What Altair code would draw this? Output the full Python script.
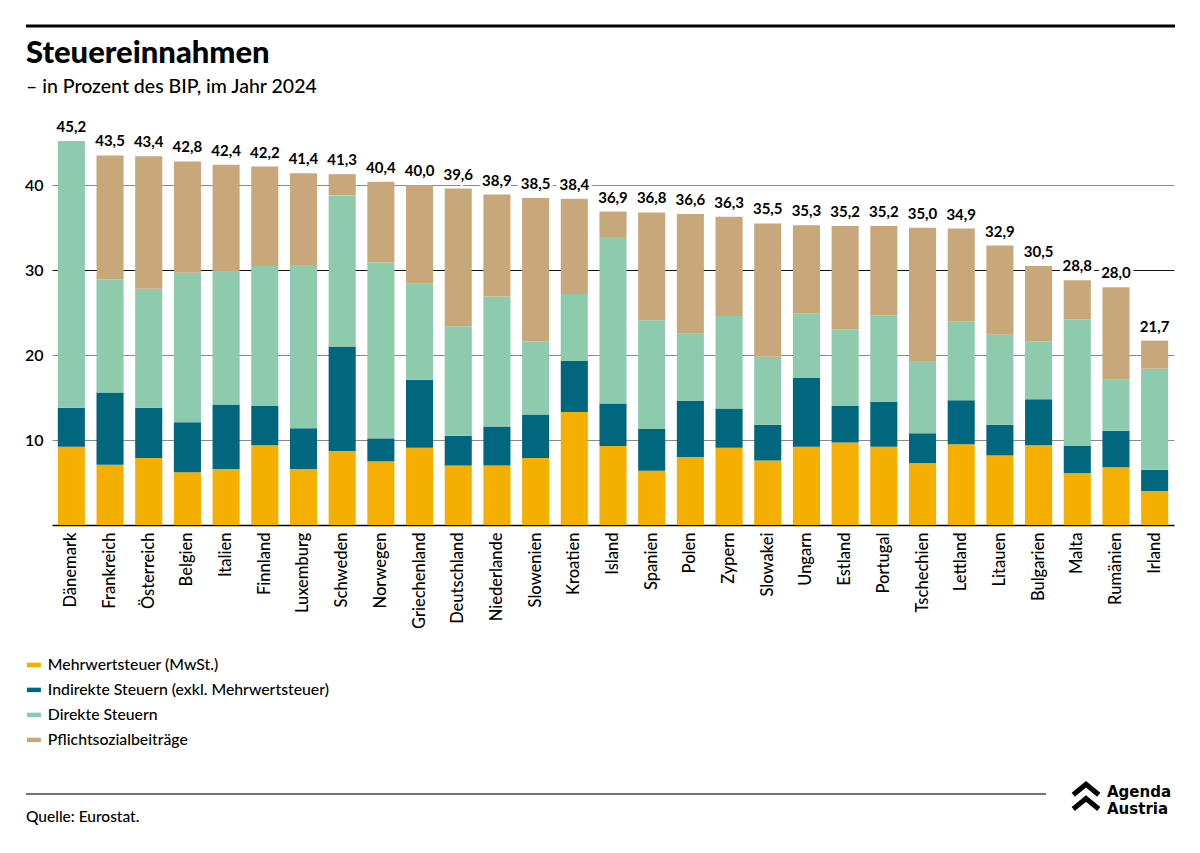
import altair as alt
import pandas as pd

countries = ["Dänemark", "Frankreich", "Österreich", "Belgien", "Italien", "Finnland",
             "Luxemburg", "Schweden", "Norwegen", "Griechenland", "Deutschland",
             "Niederlande", "Slowenien", "Kroatien", "Island", "Spanien", "Polen",
             "Zypern", "Slowakei", "Ungarn", "Estland", "Portugal", "Tschechien",
             "Lettland", "Litauen", "Bulgarien", "Malta", "Rumänien", "Irland"]
totals = [45.2, 43.5, 43.4, 42.8, 42.4, 42.2, 41.4, 41.3, 40.4, 40.0, 39.6, 38.9, 38.5,
          38.4, 36.9, 36.8, 36.6, 36.3, 35.5, 35.3, 35.2, 35.2, 35.0, 34.9, 32.9, 30.5,
          28.8, 28.0, 21.7]
mwst = [9.2, 7.1, 7.9, 6.2, 6.6, 9.4, 6.6, 8.7, 7.5, 9.1, 7.0, 7.0, 7.9, 13.3, 9.3, 6.4,
        8.0, 9.1, 7.6, 9.2, 9.7, 9.2, 7.3, 9.5, 8.2, 9.4, 6.1, 6.8, 4.0]
indirekt = [4.6, 8.5, 5.9, 5.9, 7.6, 4.6, 4.8, 12.3, 2.7, 8.0, 3.5, 4.6, 5.1, 6.0, 5.0,
            4.9, 6.6, 4.6, 4.2, 8.1, 4.3, 5.3, 3.5, 5.2, 3.6, 5.4, 3.2, 4.3, 2.5]
direkt = [31.4, 13.3, 14.0, 17.6, 15.7, 16.5, 19.2, 17.8, 20.7, 11.3, 12.9, 15.3, 8.6,
          7.9, 19.6, 12.8, 7.9, 10.9, 8.0, 7.6, 9.0, 10.2, 8.5, 9.3, 10.6, 6.8, 14.9,
          6.0, 11.9]
sozial = [0.0, 14.6, 15.6, 13.1, 12.5, 11.7, 10.8, 2.5, 9.5, 11.6, 16.2, 12.0, 16.9,
          11.2, 3.0, 12.7, 14.1, 11.7, 15.7, 10.4, 12.2, 10.5, 15.7, 10.9, 10.5, 8.9,
          4.6, 10.9, 3.3]

categories = ["Mehrwertsteuer (MwSt.)", "Indirekte Steuern (exkl. Mehrwertsteuer)",
              "Direkte Steuern", "Pflichtsozialbeiträge"]
colors = ["#F5AF00", "#00677F", "#8DCAAE", "#C8A77B"]

series = [mwst, indirekt, direkt, sozial]
rows = []
for ci, (cat, vals) in enumerate(zip(categories, series)):
    for land, v in zip(countries, vals):
        rows.append({"land": land, "kat": cat, "wert": v, "ord": ci})
df = pd.DataFrame(rows)

tot_df = pd.DataFrame({
    "land": countries,
    "total": totals,
    "label": [f"{t:.1f}".replace(".", ",") for t in totals],
})

FONT = "Lato"
W, H = 1122, 395

xenc = alt.X("land:N", sort=countries,
             scale=alt.Scale(paddingInner=0.3, paddingOuter=0.15),
             axis=alt.Axis(title=None, labelAngle=-90, labelAlign="right",
                           labelBaseline="middle", labelPadding=7, labelFontSize=16.5,
                           labelFont=FONT, labelColor="black", labelFontWeight=500,
                           ticks=False, domainColor="black", domainWidth=1.5,
                           grid=False))
yenc = alt.Y("wert:Q", stack="zero",
             scale=alt.Scale(domain=[0, 46.5], nice=False),
             axis=alt.Axis(title=None, values=[10, 20, 30, 40], labelFontSize=16,
                           labelFont=FONT, labelColor="black", labelFontWeight=600,
                           labelPadding=9, domain=False, ticks=False, grid=True,
                           gridColor={"condition": {"test": "datum.value === 30",
                                                    "value": "#111111"},
                                      "value": "#8a8a8a"},
                           gridWidth=1.2))

bars = alt.Chart(df).mark_bar().encode(
    x=xenc,
    y=yenc,
    color=alt.Color("kat:N", sort=categories,
                    scale=alt.Scale(domain=categories, range=colors),
                    legend=alt.Legend(title=None, orient="none", legendX=-26,
                                      legendY=527, direction="vertical",
                                      symbolType="M-1,-0.32L1,-0.32L1,0.32L-1,0.32Z",
                                      symbolSize=196, symbolStrokeWidth=0,
                                      labelFontSize=15.8, labelFont=FONT,
                                      labelFontWeight=500,
                                      labelColor="black", rowPadding=8,
                                      labelOffset=6, padding=0, labelLimit=500)),
    order=alt.Order("ord:Q"),
)

xt = alt.X("land:N", sort=countries)
yt = alt.Y("total:Q")
halo = alt.Chart(tot_df).mark_text(
    font=FONT, fontSize=15, fontWeight="bold", baseline="alphabetic", dy=-9,
    stroke="white", strokeWidth=6, fill="white"
).encode(x=xt, y=yt, text="label:N")
labels = alt.Chart(tot_df).mark_text(
    font=FONT, fontSize=15, fontWeight="bold", baseline="alphabetic", dy=-9,
    color="black"
).encode(x=xt, y=yt, text="label:N")

title = alt.Chart(pd.DataFrame({"t": ["Steuereinnahmen"]})).mark_text(
    font=FONT, fontSize=31, fontWeight=900, align="left", baseline="alphabetic",
    color="black"
).encode(x=alt.value(-26), y=alt.value(-67), text="t:N")

sub = alt.Chart(pd.DataFrame({"t": ["– in Prozent des BIP, im Jahr 2024"]})).mark_text(
    font=FONT, fontSize=19.5, fontWeight=500, align="left", baseline="alphabetic",
    color="black"
).encode(x=alt.value(-26), y=alt.value(-37), text="t:N")

source = alt.Chart(pd.DataFrame({"t": ["Quelle: Eurostat."]})).mark_text(
    font=FONT, fontSize=15.5, fontWeight=500, align="left", baseline="alphabetic",
    color="black"
).encode(x=alt.value(-26), y=alt.value(692), text="t:N")

top_rule = alt.Chart(pd.DataFrame({"a": [0]})).mark_rule(
    color="black", strokeWidth=3
).encode(x=alt.value(-26), x2=alt.value(1123), y=alt.value(-104))

bottom_rule = alt.Chart(pd.DataFrame({"a": [0]})).mark_rule(
    color="#444444", strokeWidth=1.5
).encode(x=alt.value(-26), x2=alt.value(994), y=alt.value(664))

logo1 = alt.Chart(pd.DataFrame({"t": ["Agenda"]})).mark_text(
    font="DejaVu Sans", fontSize=15, fontWeight="bold", align="left",
    baseline="alphabetic", color="black"
).encode(x=alt.value(1055), y=alt.value(667), text="t:N")
logo2 = alt.Chart(pd.DataFrame({"t": ["Austria"]})).mark_text(
    font="DejaVu Sans", fontSize=15, fontWeight="bold", align="left",
    baseline="alphabetic", color="black"
).encode(x=alt.value(1055), y=alt.value(684), text="t:N")
chevrons = alt.Chart(pd.DataFrame({"a": [0]})).mark_point(
    shape="M-0.85,-0.15L0,-0.85L0.85,-0.15M-0.85,0.8L0,0.1L0.85,0.8",
    filled=False, stroke="black", strokeWidth=5, size=900, opacity=1,
    strokeJoin="miter", strokeCap="butt"
).encode(x=alt.value(1034), y=alt.value(667))

chart = alt.layer(
    bars, halo, labels, title, sub, source, top_rule, bottom_rule,
    logo1, logo2, chevrons
).properties(
    width=W, height=H,
    padding={"left": 52, "top": 130, "right": 26, "bottom": 328},
    autosize=alt.AutoSizeParams(type="none"),
    background="white",
).configure_view(stroke=None)

chart.save("out.html", embed_options={"renderer": "svg", "actions": False})
